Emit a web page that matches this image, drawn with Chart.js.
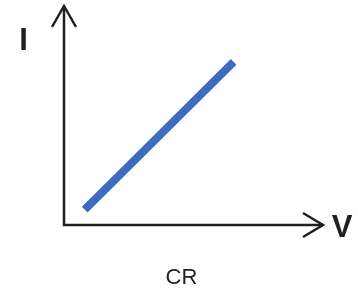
<!DOCTYPE html>
<html>
<head>
<meta charset="utf-8">
<script src="https://cdn.jsdelivr.net/npm/chart.js@4"></script>
<style>
  html, body { margin: 0; padding: 0; background: #fff; }
  #wrap { width: 358px; height: 290px; }
</style>
</head>
<body>
<div id="wrap"><canvas id="ivChart" width="358" height="290"></canvas></div>
<script>
// CR mode: current rises linearly with voltage
const voltage = [0.8, 6.55];
const current = [0.7, 7.45];
const xLabel = 'V';
const yLabel = 'I';
const modeLabel = 'CR';

const axisArrows = {
    id: 'axisArrows',
    afterDraw(chart) {
        const ctx = chart.ctx;
        const a = chart.chartArea;
        ctx.save();
        ctx.strokeStyle = '#231f20';
        ctx.lineWidth = 2.5;
        ctx.lineCap = 'butt';
        ctx.lineJoin = 'miter';
        // axes
        ctx.beginPath();
        ctx.moveTo(a.left, a.top);
        ctx.lineTo(a.left, a.bottom);
        ctx.lineTo(a.right, a.bottom);
        ctx.stroke();
        // arrow heads
        ctx.beginPath();
        ctx.moveTo(a.left - 12, a.top + 21);
        ctx.lineTo(a.left, a.top);
        ctx.lineTo(a.left + 12, a.top + 21);
        ctx.moveTo(a.right - 20, a.bottom - 12);
        ctx.lineTo(a.right, a.bottom);
        ctx.lineTo(a.right - 20, a.bottom + 12);
        ctx.stroke();
        // labels
        ctx.fillStyle = '#231f20';
        ctx.textAlign = 'center';
        ctx.textBaseline = 'alphabetic';
        ctx.font = 'bold 31px "Liberation Sans", Arial, sans-serif';
        ctx.fillText(yLabel, 23.5, 50);
        ctx.fillText(xLabel, 342, 237);
        ctx.font = '22px "Liberation Sans", Arial, sans-serif';
        ctx.fillText(modeLabel, 181.5, 284);
        ctx.restore();
    }
};

new Chart(document.getElementById('ivChart'), {
    type: 'line',
    data: {
        datasets: [{
            data: voltage.map((v, i) => ({ x: v, y: current[i] })),
            borderColor: '#3d6cbf',
            borderWidth: 8,
            borderCapStyle: 'butt',
            pointRadius: 0,
            tension: 0
        }]
    },
    options: {
        responsive: false,
        animation: false,
        layout: { padding: { left: 64, right: 35, top: 6, bottom: 65 } },
        plugins: { legend: { display: false }, tooltip: { enabled: false } },
        scales: {
            x: { type: 'linear', min: 0, max: 10, display: false },
            y: { type: 'linear', min: 0, max: 10, display: false }
        }
    },
    plugins: [axisArrows]
});
</script>
</body>
</html>
